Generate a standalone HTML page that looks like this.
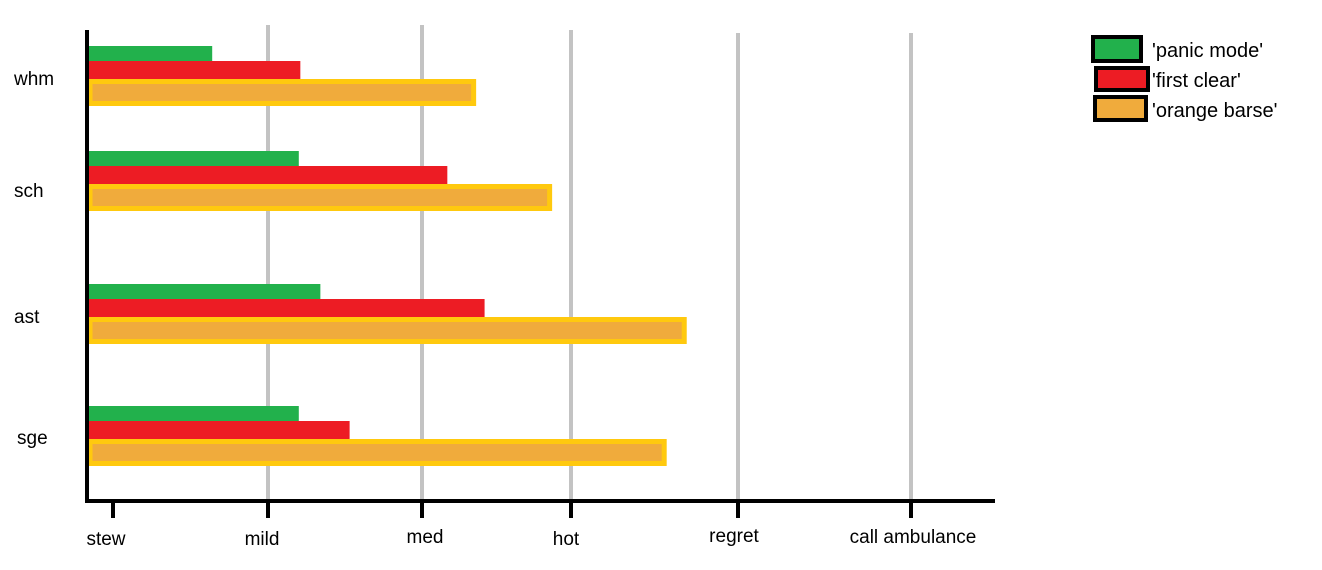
<!DOCTYPE html>
<html><head><meta charset="utf-8"><style>
html,body{margin:0;padding:0;background:#fff;}
svg{display:block;font-family:"Liberation Sans","DejaVu Sans",sans-serif;}
</style></head><body>
<svg id="chart" width="1322" height="570" viewBox="0 0 1322 570" xmlns="http://www.w3.org/2000/svg">
<g id="grid"></g><g id="bars"></g><g id="axes"></g><g id="legend"></g>
</svg>
<script>
const tickLabels = ["stew","mild","med","hot","regret","call ambulance"];
const categories = ["whm","sch","ast","sge"];
const panicMode = [0.64, 1.20, 1.34, 1.20];
const firstClear = [1.21, 2.17, 2.42, 1.53];
const orangeBarse = [2.36, 2.87, 3.69, 3.57];

const NS = "http://www.w3.org/2000/svg";
const tickX = [113, 268, 422, 571, 738, 911];
function xScale(v){
  const i = Math.max(0, Math.min(tickX.length-2, Math.floor(v)));
  return tickX[i] + (v - i) * (tickX[i+1] - tickX[i]);
}
const x0 = 88;
const groupTop = [46, 151, 284, 406];
const labelY = [85, 197, 323, 444];
const labelX = [14, 14, 14, 17];
function mk(tag, attrs, parent){
  const e = document.createElementNS(NS, tag);
  for (const k in attrs) e.setAttribute(k, attrs[k]);
  parent.appendChild(e); return e;
}
const grid = document.getElementById('grid');
const bars = document.getElementById('bars');
const axes = document.getElementById('axes');
const legend = document.getElementById('legend');

const gridTop = [null, 25, 25, 30, 33, 33];
tickLabels.forEach((t, i) => {
  if (i > 0) {
    const g = mk('line', {x1: tickX[i], x2: tickX[i], y1: gridTop[i], y2: 500, stroke: '#c3c3c3', 'stroke-width': 4}, grid);
    
    
  }
});

categories.forEach((c, i) => {
  const top = groupTop[i];
  const g = mk('rect', {x: x0, y: top, width: xScale(panicMode[i]) - x0, height: 15, fill: '#22b14c'}, bars);
  
  
  const r = mk('rect', {x: x0 - 1, y: top + 15, width: xScale(firstClear[i]) - x0 + 1, height: 18, fill: '#ed1c24'}, bars);
  
  
  const o = mk('rect', {x: x0 + 2, y: top + 35.5, width: xScale(orangeBarse[i]) - x0 - 4, height: 22, fill: '#f0ab3c', stroke: '#ffc90e', 'stroke-width': 5}, bars);
  
  
  const l = mk('text', {x: labelX[i], y: labelY[i], 'font-size': 19, fill: '#000'}, axes);
  l.textContent = c;
  
  
});

const ya = mk('line', {x1: 87, x2: 87, y1: 30, y2: 503, stroke: '#000', 'stroke-width': 4}, axes);


const xa = mk('line', {x1: 85, x2: 995, y1: 501, y2: 501, stroke: '#000', 'stroke-width': 4}, axes);



const labY = [545, 545, 543, 545, 542, 543];
const labDx = [-7, -6, 3, -5, -4, 2];
tickLabels.forEach((t, i) => {
  const tk = mk('line', {x1: tickX[i], x2: tickX[i], y1: 501, y2: 518, stroke: '#000', 'stroke-width': 4}, axes);
  
  
  const tx = mk('text', {x: tickX[i] + labDx[i], y: labY[i], 'font-size': 19, 'text-anchor': 'middle', fill: '#000'}, axes);
  tx.textContent = t;
  
  
});

const legItems = [
  {name: "'panic mode'", fill: '#22b14c', x: 1093, y: 37, w: 48, h: 24, ty: 57},
  {name: "'first clear'", fill: '#ed1c24', x: 1096, y: 68, w: 52, h: 22, ty: 87},
  {name: "'orange barse'", fill: '#f0ab3c', x: 1095, y: 97, w: 51, h: 23, ty: 117}
];
legItems.forEach((it, i) => {
  const b = mk('rect', {x: it.x, y: it.y, width: it.w, height: it.h, fill: it.fill, stroke: '#000', 'stroke-width': 4}, legend);
  
  
  const t = mk('text', {x: 1152, y: it.ty, 'font-size': 20, fill: '#000'}, legend);
  t.textContent = it.name;
  
  
});
</script>
</body></html>
